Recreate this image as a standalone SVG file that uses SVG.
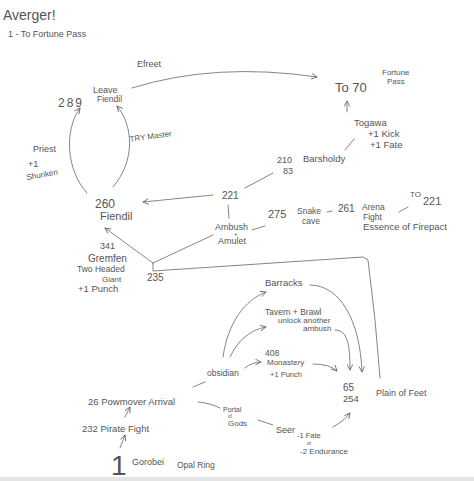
<svg xmlns="http://www.w3.org/2000/svg" width="474" height="481" viewBox="0 0 474 481">
<defs>
<marker id="ah" viewBox="0 0 10 10" refX="9" refY="5" markerWidth="7" markerHeight="7" orient="auto" markerUnits="userSpaceOnUse">
<path d="M1,1 L9,5 L1,9" fill="none" stroke="#666" stroke-width="1.2"/>
</marker>
<style>
text{font-family:"Liberation Sans","DejaVu Sans",sans-serif;fill:#555}
.c path{fill:none;stroke:#777;stroke-width:0.9;stroke-linecap:round}
.a{marker-end:url(#ah)}
</style>
</defs>
<rect width="474" height="481" fill="#fff"/>
<rect x="0" y="477" width="474" height="4" fill="#e4e4e4"/>

<g id="title">
<text x="3" y="20" font-size="14">Averger!</text>
<text x="8" y="37" font-size="9">1 - To Fortune Pass</text>
</g>

<g class="c" id="connectors">
<path class="a" d="M132,88 Q215,62 317,77"/>
<path class="a" d="M87,193 C66,170 64,130 80,108"/>
<path class="a" d="M113,187 C136,160 133,125 117,106"/>
<path class="a" d="M213,195 L143,202"/>
<path d="M245,188 L273,173"/>
<path d="M345,150 L354,139"/>
<path class="a" d="M347,112 L347,101"/>
<path d="M228,205 L229,218"/>
<path d="M252,230 L265,226"/>
<path d="M327,212 L332,211"/>
<path d="M399,212 L408,207"/>
<path d="M153,263 L213,235"/>
<path class="a" d="M153,263 L105,228"/>
<path d="M153,263 L153,271 L363,257 L368,260 Q376,320 380,378"/>
<path class="a" d="M223,357 C228,322 245,300 266,292"/>
<path class="a" d="M230,357 C238,340 250,330 266,327"/>
<path class="a" d="M245,368 Q252,362 261,362"/>
<path class="a" d="M310,285 C340,285 360,320 362,372"/>
<path class="a" d="M335,330 C348,330 350,345 350,370"/>
<path class="a" d="M313,364 Q330,364 337,371"/>
<path d="M193,387 L205,382"/>
<path d="M198,402 Q210,403 220,408"/>
<path d="M258,420 L273,425"/>
<path class="a" d="M333,427 Q343,422 350,413"/>
<path class="a" d="M125,417 L130,407"/>
<path class="a" d="M120,448 L125,435"/>
</g>

<g id="efreet"><text x="137" y="67" font-size="9">Efreet</text></g>
<g id="n289"><text x="58" y="107" font-size="12" letter-spacing="2">289</text></g>
<g id="leave-fiendil">
<text x="93" y="93" font-size="9">Leave</text>
<text x="97" y="102" font-size="8.5">Fiendil</text>
</g>
<g id="to70">
<text x="335" y="92" font-size="13">To 70</text>
<text x="382" y="75" font-size="8">Fortune</text>
<text x="387" y="84" font-size="8">Pass</text>
</g>
<g id="togawa">
<text x="354" y="126" font-size="9.5">Togawa</text>
<text x="368" y="137" font-size="9.5">+1 Kick</text>
<text x="370" y="148" font-size="9.5">+1 Fate</text>
</g>
<g id="barsholdy">
<text x="277" y="163" font-size="9">210</text>
<text x="283" y="174" font-size="9">83</text>
<text x="303" y="162" font-size="9.5">Barsholdy</text>
</g>
<g id="n221"><text x="222" y="199" font-size="10">221</text></g>
<g id="fiendil">
<text x="95" y="208" font-size="12">260</text>
<text x="100" y="220" font-size="11">Fiendil</text>
</g>
<g id="try-master"><text x="130" y="142" font-size="8" transform="rotate(-8 130 142)">TRY Master</text></g>
<g id="priest">
<text x="33" y="152" font-size="9">Priest</text>
<text x="28" y="167" font-size="9">+1</text>
<text x="27" y="180" font-size="8" transform="rotate(-10 27 180)">Shuriken</text>
</g>
<g id="ambush">
<text x="215" y="230" font-size="9">Ambush</text>
<text x="234" y="236" font-size="6">+</text>
<text x="218" y="244" font-size="9">Amulet</text>
</g>
<g id="snake-cave">
<text x="268" y="218" font-size="11">275</text>
<text x="297" y="214" font-size="8.5">Snake</text>
<text x="302" y="224" font-size="8.5">cave</text>
</g>
<g id="arena">
<text x="338" y="212" font-size="10">261</text>
<text x="362" y="210" font-size="8.5">Arena</text>
<text x="363" y="220" font-size="8.5">Fight</text>
<text x="363" y="230" font-size="9.5">Essence of Firepact</text>
</g>
<g id="to221">
<text x="410" y="197" font-size="8">TO</text>
<text x="423" y="205" font-size="11">221</text>
</g>
<g id="gremfen">
<text x="100" y="249" font-size="9">341</text>
<text x="88" y="262" font-size="10">Gremfen</text>
<text x="77" y="272" font-size="8.5">Two Headed</text>
<text x="102" y="282" font-size="8">Giant</text>
<text x="78" y="292" font-size="9.5">+1 Punch</text>
</g>
<g id="n235"><text x="147" y="281" font-size="10">235</text></g>
<g id="barracks"><text x="265" y="286" font-size="9.5">Barracks</text></g>
<g id="tavern">
<text x="265" y="315" font-size="8.5">Tavern + Brawl</text>
<text x="278" y="323" font-size="8">unlock another</text>
<text x="303" y="331" font-size="8">ambush</text>
</g>
<g id="monastery">
<text x="265" y="356" font-size="8.5">408</text>
<text x="267" y="365" font-size="8">Monastery</text>
<text x="270" y="377" font-size="7.5">+1 Punch</text>
</g>
<g id="obsidian"><text x="207" y="376" font-size="8.5">obsidian</text></g>
<g id="plain-of-feet">
<text x="343" y="391" font-size="10">65</text>
<text x="343" y="402" font-size="9.5">254</text>
<text x="376" y="396" font-size="9">Plain of Feet</text>
</g>
<g id="arrival"><text x="88" y="405" font-size="9.5">26 Powmover Arrival</text></g>
<g id="pirate"><text x="82" y="432" font-size="9.5">232 Pirate Fight</text></g>
<g id="gorobei">
<text x="111" y="475" font-size="28">1</text>
<text x="132" y="465" font-size="9">Gorobei</text>
<text x="177" y="468" font-size="8.5">Opal Ring</text>
</g>
<g id="portal">
<text x="223" y="412" font-size="7">Portal</text>
<text x="228" y="418" font-size="4.5">of</text>
<text x="228" y="426" font-size="8">Gods</text>
</g>
<g id="seer">
<text x="276" y="433" font-size="9">Seer</text>
<text x="297" y="438" font-size="7.5">-1 Fate</text>
<text x="307" y="445" font-size="5">or</text>
<text x="300" y="454" font-size="8">-2 Endurance</text>
</g>
</svg>
